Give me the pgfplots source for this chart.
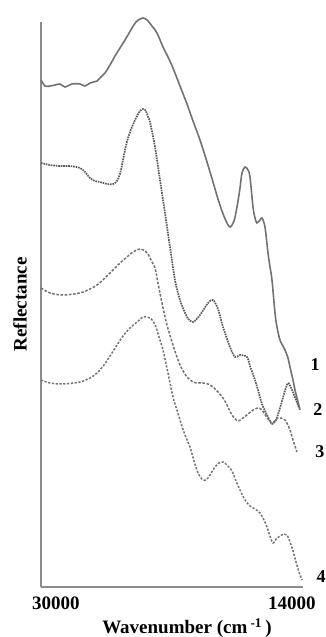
\documentclass[border=0pt]{standalone}
\usepackage{fontspec}
\setmainfont{Liberation Serif}
\usepackage{pgfplots}
\pgfplotsset{compat=1.18}

\definecolor{curvegray}{HTML}{727272}
\definecolor{dotgray}{HTML}{5A5A5A}
\definecolor{axisgray}{HTML}{8C8C8C}

\begin{document}
\begin{tikzpicture}
% fixed page frame around the axis box (origin = lower left corner of the box)
\useasboundingbox (-41pt,-50pt) rectangle (285pt,587pt);
\begin{axis}[
  scale only axis, width=262pt, height=565pt,
  x dir=reverse, xmin=14000, xmax=30000, ymin=0, ymax=5.65,
  axis lines=left,
  axis line style={-, draw=axisgray, line width=1.8pt},
  scaled x ticks=false,
  xtick={30000,14000},
  xticklabels={\hspace*{30pt}30000, 14000\hspace*{22pt}},
  ytick=\empty, major tick length=0pt,
  xticklabel style={anchor=center, yshift=-16pt,
    font=\fontsize{19}{22}\selectfont\bfseries},
  /pgf/number format/assume math mode=true,
  xlabel={Wavenumber (cm\,\textsuperscript{-1}\,)},
  every axis x label/.style={at={(axis description cs:0.557,-0.0726)},
    anchor=center, font=\fontsize{19}{22}\selectfont\bfseries},
  ylabel={Reflectance},
  every axis y label/.style={at={(axis description cs:-0.0534,0.5)},
    rotate=90, anchor=south, inner sep=0pt,
    font=\fontsize{19}{22}\selectfont\bfseries},
  clip=false,
  every axis plot/.append style={curvegray, line width=1.5pt, smooth, tension=0.5},
]

% 1
\addplot[solid, line width=1.6pt] coordinates {
(30000,5.07) (29756,5.01) (29450,5.01) (29145,5.02) (28840,5.03) (28534,5.00)
(28107,5.03) (27618,5.03) (27313,5.01) (27008,5.04) (26580,5.06) (26397,5.09)
(26092,5.14) (25786,5.22) (25481,5.31) (25176,5.39) (24870,5.47) (24687,5.52)
(24443,5.59) (24198,5.65) (23954,5.68) (23771,5.69) (23527,5.67) (23221,5.61)
(22916,5.54) (22550,5.40) (22245,5.30) (21939,5.19) (21511,5.01) (21084,4.83)
(20717,4.66) (20290,4.47) (19862,4.25) (19496,4.05) (19191,3.88) (18947,3.76)
(18702,3.66) (18458,3.60) (18214,3.66) (18030,3.80) (17847,3.99) (17725,4.14)
(17542,4.20) (17358,4.17) (17237,4.10) (17053,3.80) (16931,3.69) (16809,3.64)
(16626,3.67) (16504,3.69) (16321,3.60) (16137,3.34) (16015,3.20) (15893,3.07)
(15710,2.74) (15588,2.60) (15405,2.47) (15099,2.37) (14916,2.29) (14794,2.20)
(14611,2.07) (14489,1.97) (14305,1.85) (14183,1.77)
};

% 2
\addplot[dotgray, dash pattern=on 1.6pt off 0.9pt, line width=1.7pt] coordinates {
(30000,4.24) (29450,4.22) (28840,4.21) (28229,4.21) (27618,4.19) (27313,4.15)
(27008,4.09) (26702,4.06) (26397,4.05) (25969,4.03) (25603,4.03) (25359,4.06)
(25176,4.13) (25053,4.22) (24870,4.37) (24687,4.49) (24443,4.60) (24198,4.69)
(23954,4.76) (23771,4.78) (23588,4.76) (23466,4.70) (23344,4.65) (23038,4.40)
(22733,4.07) (22428,3.74) (22122,3.40) (21817,3.07) (21511,2.87) (21084,2.70)
(20717,2.65) (20290,2.72) (19801,2.84) (19496,2.87) (19191,2.78) (18885,2.60)
(18458,2.40) (18153,2.30) (17847,2.32) (17419,2.30) (17237,2.21) (16931,2.07)
(16748,1.97) (16504,1.83) (16198,1.72) (15893,1.63) (15649,1.67) (15405,1.79)
(15160,1.93) (14916,2.04) (14672,1.97) (14427,1.87) (14244,1.79)
};

% 3
\addplot[dash pattern=on 2.6pt off 1.6pt] coordinates {
(30000,2.99) (29450,2.94) (28656,2.92) (27618,2.94) (27008,2.98) (26580,3.02)
(26092,3.09) (25603,3.17) (25176,3.24) (24748,3.30) (24382,3.35) (23954,3.38)
(23649,3.36) (23466,3.33) (23221,3.25) (23038,3.19) (22855,3.04) (22611,2.84)
(22306,2.62) (21939,2.42) (21634,2.27) (21389,2.18) (21084,2.10) (20717,2.05)
(20412,2.04) (20107,2.04) (19801,2.03) (19496,2.00) (19191,1.95) (18885,1.89)
(18641,1.82) (18336,1.72) (17969,1.66) (17664,1.69) (17358,1.73) (17053,1.77)
(16748,1.79) (16504,1.77) (16259,1.71) (15893,1.64) (15527,1.69) (15099,1.67)
(14794,1.57) (14611,1.47) (14366,1.35)
};

% 4
\addplot[dash pattern=on 2.2pt off 1.6pt] coordinates {
(30000,2.07) (29450,2.04) (28656,2.03) (27618,2.05) (27008,2.09) (26580,2.14)
(26153,2.22) (25786,2.31) (25359,2.42) (24992,2.51) (24565,2.59) (24137,2.65)
(23771,2.70) (23527,2.70) (23344,2.69) (23160,2.66) (22977,2.60) (22794,2.50)
(22550,2.37) (22245,2.14) (21939,1.90) (21695,1.77) (21511,1.67) (21206,1.52)
(20901,1.40) (20656,1.26) (20412,1.14) (20168,1.08) (19923,1.07) (19679,1.12)
(19374,1.20) (19130,1.24) (18885,1.25) (18641,1.22) (18336,1.16) (18092,1.06)
(17847,0.97) (17542,0.87) (17237,0.81) (16931,0.78) (16626,0.74) (16382,0.67)
(16198,0.60) (16015,0.51) (15832,0.44) (15588,0.49) (15405,0.51) (15160,0.53)
(14977,0.52) (14794,0.45) (14611,0.36) (14427,0.25) (14244,0.15) (14061,0.07)
};

% curve numbers
\begin{scope}[every node/.style={font=\fontsize{18}{20}\selectfont\bfseries, inner sep=0pt}]
\node at (axis cs:13267,2.22) {1};
\node at (axis cs:13084,1.77) {2};
\node at (axis cs:12962,1.35) {3};
\node at (axis cs:12900,0.10) {4};
\end{scope}
\end{axis}
\end{tikzpicture}
\end{document}
